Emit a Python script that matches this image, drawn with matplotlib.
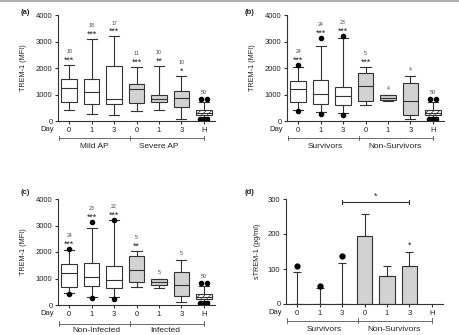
import matplotlib
matplotlib.use("Agg")
import matplotlib.pyplot as plt
import matplotlib.transforms as mtrans
from matplotlib.lines import Line2D
import numpy as np

plt.rcParams['font.family'] = ['Liberation Sans', 'DejaVu Sans']
plt.rcParams['hatch.linewidth'] = 0.5

# ---- data ----
days = ['0', '1', '3', '0', '1', '3', 'H']

# healthy controls (same in a, b, c)
h_stats = dict(q1=220, med=320, q3=420, lo=150, hi=720)
h_out_hi = [820, 820]
h_out_lo = [90, 90, 90]

# (a) mild vs severe AP
a_q1 = [700, 650, 630, 690, 730, 520]
a_med = [1230, 1080, 840, 1190, 830, 855]
a_q3 = [1585, 1585, 2060, 1380, 980, 1130]
a_lo = [400, 250, 210, 380, 400, 60]
a_hi = [2110, 3090, 3190, 2030, 2080, 1690]
a_fl = [[], [], [], [], [], []]
a_n = [18, 18, 17, 11, 10, 10, 50]
a_stars = ['***', '***', '***', '***', '**', '*', '']

# (b) survivors vs non-survivors
b_q1 = [700, 640, 620, 770, 780, 230]
b_med = [1190, 1020, 930, 1320, 880, 750]
b_q3 = [1510, 1530, 1300, 1820, 970, 1450]
b_lo = [420, 330, 310, 590, 770, 60]
b_hi = [2050, 2840, 3150, 2030, 990, 1690]
b_fl = [[2120, 380], [3120, 250], [3200, 230], [], [], []]
b_n = [24, 24, 23, 5, 4, 4, 50]
b_stars = ['***', '***', '***', '***', '', '', '']

# (c) non-infected vs infected
c_q1 = [690, 710, 660, 850, 760, 340]
c_med = [1210, 1070, 960, 1310, 880, 740]
c_q3 = [1540, 1590, 1490, 1840, 980, 1250]
c_lo = [440, 300, 290, 690, 660, 100]
c_hi = [2080, 2900, 3190, 2040, 980, 1700]
c_fl = [[2120, 400], [3120, 250], [3220, 240], [], [], []]
c_n = [24, 23, 22, 5, 5, 5, 50]
c_stars = ['***', '***', '***', '**', '', '', '']

# (d) soluble TREM-1
d_bar = [0, 0, 0, 193, 81, 110]
d_top = [91, 46, 117, 258, 108, 148]
d_dots = [108, 51, 137]
d_stars = ['', '', '', '', '', '*']

LC = '#333333'
GRAY = '#d2d2d2'
FS = 5.5
STAR_FS = 6.3


def style_axis(ax, ymax, ystep, ylabel, groups, ylab_x, yb=-0.158, lab_gap=0.085):
    for s in ['top', 'right']:
        ax.spines[s].set_visible(False)
    for s in ['left', 'bottom']:
        ax.spines[s].set_linewidth(0.8)
        ax.spines[s].set_color(LC)
    ax.set_xlim(-0.5, 6.5)
    ax.set_ylim(0, ymax)
    ax.set_yticks(np.arange(0, ymax + 1, ystep))
    ax.set_xticks(range(7))
    ax.set_xticklabels(days)
    ax.tick_params(axis='both', labelsize=FS, length=2.5, width=0.8,
                   color=LC, pad=1.5, labelcolor='#222222')
    ax.set_ylabel(ylabel, fontsize=5.2, color='#222222')
    ax.yaxis.set_label_coords(ylab_x, 0.5)
    tr = mtrans.blended_transform_factory(ax.transData, ax.transAxes)
    ax.text(-0.68, -0.08, 'Day', transform=tr, ha='right', va='center',
            fontsize=FS, color='#222222')
    ax.plot([-0.45, 6.0], [yb, yb], transform=tr, color='#555555', lw=0.6,
            clip_on=False)
    for xx in [-0.45, 2.7, 6.0]:
        ax.plot([xx, xx], [yb - 0.02, yb + 0.02], transform=tr,
                color='#555555', lw=0.6, clip_on=False)
    ax.text(groups[1], yb - lab_gap, groups[0], transform=tr, ha='center',
            va='center', fontsize=6, color='#222222')
    ax.text(groups[3], yb - lab_gap, groups[2], transform=tr, ha='center',
            va='center', fontsize=6, color='#222222')


def box_panel(ax, q1, med, q3, lo, hi, fl, n, stars):
    stats = []
    for i in range(6):
        stats.append(dict(q1=q1[i], med=med[i], q3=q3[i], whislo=lo[i],
                          whishi=hi[i], fliers=fl[i]))
    stats.append(dict(q1=h_stats['q1'], med=h_stats['med'], q3=h_stats['q3'],
                      whislo=h_stats['lo'], whishi=h_stats['hi'], fliers=[]))
    bp = ax.bxp(stats, positions=range(7), widths=0.7, capwidths=0.45,
                patch_artist=True,
                boxprops=dict(linewidth=0.8, edgecolor=LC),
                medianprops=dict(color=LC, linewidth=0.8),
                whiskerprops=dict(color=LC, linewidth=0.8),
                capprops=dict(color=LC, linewidth=0.8),
                flierprops=dict(marker='o', markerfacecolor='black',
                                markeredgecolor='black', markersize=3))
    for i, b in enumerate(bp['boxes']):
        b.set_facecolor('white' if i < 3 or i == 6 else GRAY)
    bp['boxes'][6].set_hatch('//////')
    ax.plot([6 - 0.13, 6 + 0.13], h_out_hi, 'o', color='black', ms=3)
    ax.plot([6 - 0.16, 6, 6 + 0.16], h_out_lo, 'o', color='black', ms=3)
    for i in range(7):
        if i < 6:
            top = max([hi[i]] + fl[i])
        else:
            top = max(h_out_hi)
        if stars[i]:
            ax.annotate(stars[i], (i, top), xytext=(0, 0.3),
                        textcoords='offset points', ha='center', va='bottom',
                        fontsize=STAR_FS, color='#222222')
            off = 7.8
        else:
            off = 3
        ax.annotate(str(n[i]), (i, top), xytext=(0, off),
                    textcoords='offset points', ha='center', va='bottom',
                    fontsize=3.8, color='#444444')


fig = plt.figure(figsize=(4.59, 3.35), dpi=100)
W, H = 459, 335


def add_ax(left, top_px, bottom_px):
    return fig.add_axes([left / W, 1 - bottom_px / H, 157 / W,
                         (bottom_px - top_px) / H])


ax_a = add_ax(58, 15, 121)
ax_b = add_ax(287, 15, 121)
ax_c = add_ax(58, 199, 305)
ax_d = add_ax(286, 199, 304)

box_panel(ax_a, a_q1, a_med, a_q3, a_lo, a_hi, a_fl, a_n, a_stars)
style_axis(ax_a, 4000, 1000, 'TREM-1 (MFI)',
           ['Mild AP', 1.1, 'Severe AP', 4.0], -0.197)

box_panel(ax_b, b_q1, b_med, b_q3, b_lo, b_hi, b_fl, b_n, b_stars)
style_axis(ax_b, 4000, 1000, 'TREM-1 (MFI)',
           ['Survivors', 1.2, 'Non-Survivors', 4.3], -0.197)

box_panel(ax_c, c_q1, c_med, c_q3, c_lo, c_hi, c_fl, c_n, c_stars)
style_axis(ax_c, 4000, 1000, 'TREM-1 (MFI)',
           ['Non-Infected', 1.2, 'Infected', 4.3], -0.197,
           yb=-0.175, lab_gap=0.062)

# (d) bars
xd = np.arange(6)
bar_h = np.array(d_bar, dtype=float)
err_up = np.array(d_top, dtype=float) - bar_h
ax_d.bar(xd, bar_h, width=0.68, color=GRAY, edgecolor=LC, linewidth=0.8,
         zorder=2)
ax_d.errorbar(xd, bar_h, yerr=[np.zeros(6), err_up], fmt='none', ecolor=LC,
              elinewidth=0.8, capsize=3, capthick=0.8, zorder=3)
ax_d.plot(xd[:3], d_dots, 'o', color='black', ms=3.5, zorder=4)
for i, s in enumerate(d_stars):
    if s:
        ax_d.annotate(s, (i, d_top[i]), xytext=(0, 2),
                      textcoords='offset points', ha='center', va='bottom',
                      fontsize=STAR_FS, color='#222222')
# significance bracket Survivors d3 vs Non-Survivors d3
yb = 291
ax_d.plot([2, 5], [yb, yb], color=LC, lw=0.8, clip_on=False)
for xx in [2, 5]:
    ax_d.plot([xx, xx], [yb - 6, yb + 6], color=LC, lw=0.8, clip_on=False)
ax_d.text(3.5, yb + 5, '*', ha='center', va='bottom', fontsize=STAR_FS,
          color='#222222')
style_axis(ax_d, 300, 100, 'sTREM-1 (pg/ml)',
           ['Survivors', 1.2, 'Non-Survivors', 4.3], -0.161)

# panel letters
for lab, x, y in [('(a)', 25, 12), ('(b)', 250, 12), ('(c)', 25, 192),
                  ('(d)', 250, 192)]:
    fig.text(x / W, 1 - y / H, lab, ha='center', va='center', fontsize=5.5,
             fontweight='bold', color='#222222')

# thin gray rule at the top of the figure
fig.add_artist(Line2D([0, 1], [0.996, 0.996], color='#b0b0b0', lw=1.5,
                      transform=fig.transFigure))

fig.savefig('out.png', dpi=100)
